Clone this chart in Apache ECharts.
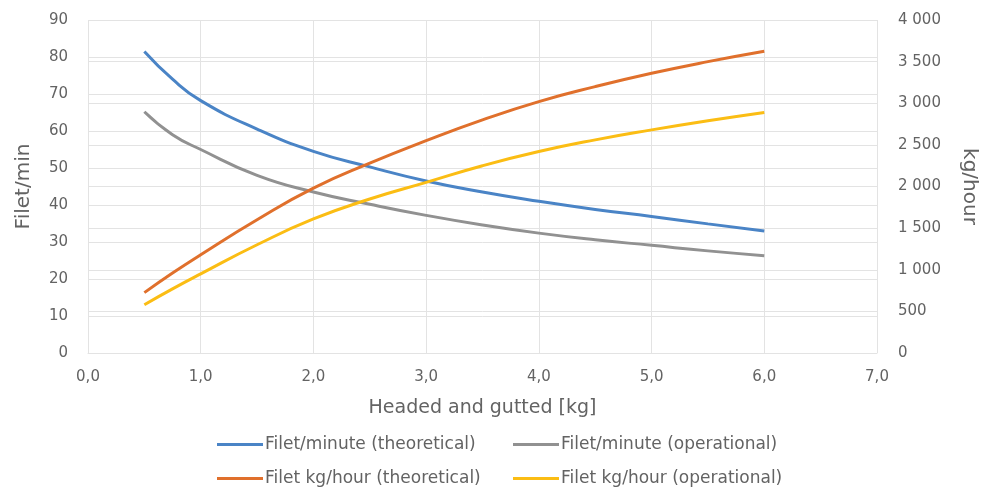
<!DOCTYPE html>
<html>
<head>
<meta charset="utf-8">
<script src="https://cdn.jsdelivr.net/npm/echarts@6/dist/echarts.min.js"></script>
<style>html,body{margin:0;padding:0;background:#fff;}#c{width:987px;height:489px;}</style>
</head>
<body>
<div id="c"></div>
<script>
const xValues = [0.5, 0.75, 1, 1.5, 2, 2.5, 3, 3.5, 4, 4.5, 5, 5.5, 6];
const filetMinTheoretical = [81.5, 74, 68.2, 60.5, 54.5, 50.3, 46.5, 43.5, 41, 38.8, 36.9, 34.9, 33.0];
const filetMinOperational = [65.2, 59, 55, 48, 43.5, 40.2, 37.2, 34.6, 32.4, 30.6, 29.1, 27.6, 26.3];
const kgHourTheoretical = [725, 960, 1180, 1600, 1980, 2280, 2550, 2800, 3020, 3200, 3360, 3500, 3625];
const kgHourOperational = [580, 770, 950, 1300, 1610, 1850, 2050, 2250, 2420, 2560, 2680, 2790, 2890];
const seriesNames = ['Filet/minute (theoretical)', 'Filet/minute (operational)', 'Filet kg/hour (theoretical)', 'Filet kg/hour (operational)'];
const colors = ['#4a84c6', '#919191', '#e0702c', '#fbbd14'];

const pair = (ys) => xValues.map((x, i) => [x, ys[i]]);
const font = '"DejaVu Sans", sans-serif';
const txt = '#636363';
const grid = '#e3e3e3';

const chart = echarts.init(document.getElementById('c'));
const legendAt = (name, left, top) => ({
  data: [name], left: left, top: top, icon: 'rect', itemWidth: 46, itemHeight: 3, itemGap: 0,
  textStyle: { color: txt, fontSize: 17, fontFamily: font, padding: [0, 0, 0, -3] }
});
chart.setOption({
  animation: false,
  color: colors,
  grid: { left: 88, right: 101, top: 20, bottom: 136 },
  legend: [
    legendAt(seriesNames[0], 212, 431),
    legendAt(seriesNames[1], 508, 431),
    legendAt(seriesNames[2], 212, 465),
    legendAt(seriesNames[3], 508, 465)
  ],
  xAxis: {
    type: 'value', min: 0, max: 7, interval: 1,
    name: 'Headed and gutted [kg]', nameLocation: 'middle', nameGap: 46,
    nameTextStyle: { color: txt, fontSize: 19, fontFamily: font },
    axisLine: { show: true, lineStyle: { color: grid } },
    axisTick: { show: false },
    axisLabel: { color: txt, fontSize: 15, fontFamily: font, margin: 17,
      formatter: v => v.toFixed(1).replace('.', ',') },
    splitLine: { show: true, lineStyle: { color: grid } }
  },
  yAxis: [
    {
      type: 'value', min: 0, max: 90, interval: 10, position: 'left',
      name: 'Filet/min', nameLocation: 'middle', nameGap: 54,
      nameTextStyle: { color: txt, fontSize: 20, fontFamily: font },
      axisLine: { show: false }, axisTick: { show: false },
      axisLabel: { color: txt, fontSize: 15, fontFamily: font, margin: 20 },
      splitLine: { show: true, lineStyle: { color: grid } }
    },
    {
      type: 'value', min: 0, max: 4000, interval: 500, position: 'right',
      name: 'kg/hour', nameLocation: 'middle', nameGap: 82, nameRotate: -90,
      nameTextStyle: { color: txt, fontSize: 20, fontFamily: font },
      axisLine: { show: false }, axisTick: { show: false },
      axisLabel: { color: txt, fontSize: 15, fontFamily: font, margin: 21,
        formatter: v => v >= 1000 ? Math.floor(v / 1000) + ' ' + String(v % 1000).padStart(3, '0') : String(v) },
      splitLine: { show: true, lineStyle: { color: grid } }
    }
  ],
  series: [
    { name: seriesNames[0], type: 'line', yAxisIndex: 0, data: pair(filetMinTheoretical) },
    { name: seriesNames[1], type: 'line', yAxisIndex: 0, data: pair(filetMinOperational) },
    { name: seriesNames[2], type: 'line', yAxisIndex: 1, data: pair(kgHourTheoretical) },
    { name: seriesNames[3], type: 'line', yAxisIndex: 1, data: pair(kgHourOperational) }
  ].map((s, i) => Object.assign(s, {
    smooth: true, showSymbol: false, symbol: 'none',
    lineStyle: { width: 3, color: colors[i] }, itemStyle: { color: colors[i] }
  }))
});
</script>
</body>
</html>
